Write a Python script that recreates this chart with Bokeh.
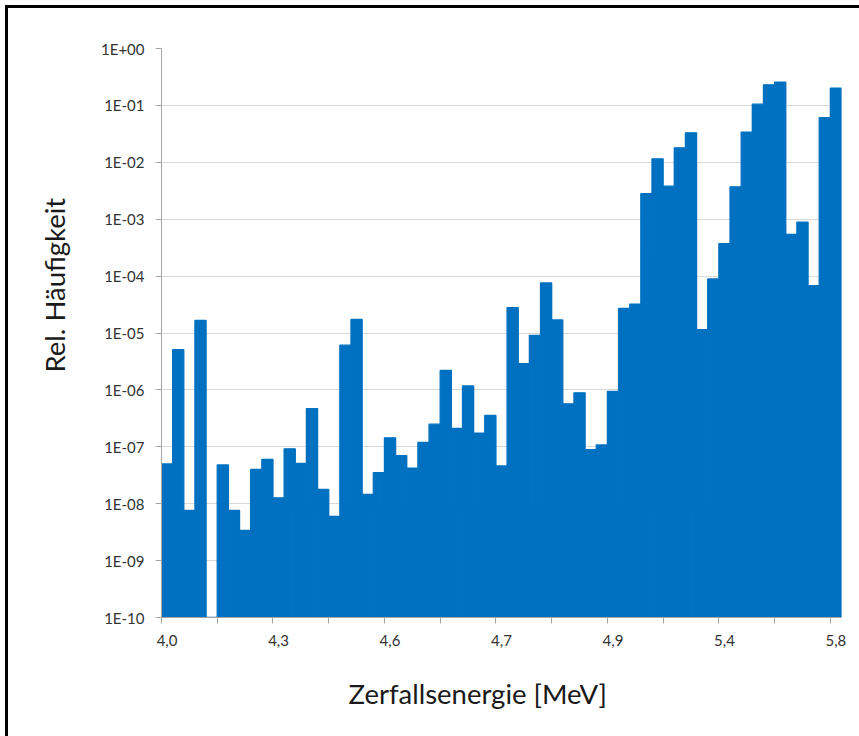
import math
from bokeh.plotting import figure
from bokeh.layouts import column
from bokeh.models import (FixedTicker, CustomJSTickFormatter, Range1d, Title,
                          ColumnDataSource)
from bokeh.embed import file_html
from bokeh.resources import INLINE

# ---- data -------------------------------------------------------------
tick_labels = ["4,0", "4,3", "4,6", "4,7", "4,9", "5,4", "5,8"]
label_every = 10
minor_every = 5
rel_haeufigkeit = [
    5.0e-8, 5.1e-6, 7.6e-9, 1.66e-5, 1e-10, 4.8e-8, 7.6e-9, 3.4e-9, 4.0e-8, 6.0e-8,
    1.27e-8, 9.2e-8, 5.1e-8, 4.7e-7, 1.78e-8, 6.0e-9, 6.1e-6, 1.73e-5, 1.45e-8, 3.5e-8,
    1.44e-7, 7.0e-8, 4.2e-8, 1.2e-7, 2.5e-7, 2.2e-6, 2.1e-7, 1.17e-6, 1.74e-7, 3.55e-7,
    4.6e-8, 2.8e-5, 2.9e-6, 9.1e-6, 7.6e-5, 1.7e-5, 5.7e-7, 8.9e-7, 8.9e-8, 1.08e-7,
    9.4e-7, 2.7e-5, 3.2e-5, 2.8e-3, 1.15e-2, 3.8e-3, 1.8e-2, 3.3e-2, 1.15e-5, 8.9e-5,
    3.7e-4, 3.7e-3, 3.4e-2, 0.105, 0.23, 0.255, 5.4e-4, 8.9e-4, 6.8e-5, 6.1e-2, 0.2,
]
y_min, y_max = 1e-10, 1.0
x_title = "Zerfallsenergie [MeV]"
y_title = "Rel. Häufigkeit"

# ---- figure ------------------------------------------------------------
n = len(rel_haeufigkeit)
OFF = 8                      # frame line + gap in front of the figure
W, H = 859 - OFF, 736 - OFF
FONT = "Lato"
BLUE = "#0070C0"
TXT = "#333333"

p = figure(width=W, height=H, output_backend="svg", toolbar_location=None,
           y_axis_type="log", x_range=Range1d(0, n), y_range=Range1d(y_min, y_max),
           min_border_left=161 - OFF, min_border_right=18, min_border_top=48 - OFF,
           min_border_bottom=119)
p.outline_line_color = None
p.background_fill_color = "white"
p.border_fill_color = "white"

src = ColumnDataSource(dict(
    left=list(range(n)),
    right=[i + 1 for i in range(n)],
    top=rel_haeufigkeit,
    bottom=[y_min] * n,
))
p.quad(left="left", right="right", top="top", bottom="bottom", source=src,
       fill_color=BLUE, line_color=BLUE, line_width=1.3)

# grid
p.xgrid.visible = False
p.ygrid.grid_line_color = "#D9D9D9"
p.ygrid.grid_line_width = 1
p.ygrid.minor_grid_line_color = None

# y axis
decades = list(range(int(round(math.log10(y_min))), int(round(math.log10(y_max))) + 1))
p.yaxis.ticker = FixedTicker(ticks=[10.0 ** d for d in decades], minor_ticks=[])
p.yaxis.formatter = CustomJSTickFormatter(code="""
    const e = Math.round(Math.log10(tick));
    const s = e >= 0 ? "+" : "-";
    const a = Math.abs(e);
    return "1E" + s + (a < 10 ? "0" + a : "" + a);
""")
p.yaxis.axis_line_color = "#A6A6A6"
p.yaxis.major_tick_line_color = "#A6A6A6"
p.yaxis.major_tick_out = 6
p.yaxis.major_tick_in = 0
p.yaxis.minor_tick_line_color = None
p.yaxis.major_label_text_font = FONT
p.yaxis.major_label_text_font_size = "15px"
p.yaxis.major_label_text_color = TXT
p.yaxis.major_label_standoff = 11

# x axis
major_pos = [i + 0.5 for i in range(0, n, label_every)]
minor_pos = [float(i) for i in range(0, n, minor_every)]
p.xaxis.ticker = FixedTicker(ticks=major_pos, minor_ticks=minor_pos)
p.xaxis.major_label_overrides = {pos: lab for pos, lab in zip(major_pos, tick_labels)}
p.xaxis.axis_line_color = "#A6A6A6"
p.xaxis.major_tick_out = 0
p.xaxis.major_tick_in = 0
p.xaxis.minor_tick_line_color = "#A6A6A6"
p.xaxis.minor_tick_out = 6
p.xaxis.minor_tick_in = 0
p.xaxis.major_label_text_font = FONT
p.xaxis.major_label_text_font_size = "15px"
p.xaxis.major_label_text_color = TXT
p.xaxis.major_label_standoff = 11

# axis titles (placed like the original, slightly off-centre)
p.add_layout(Title(text=x_title, align="left", offset=187, standoff=53,
                   text_font=FONT, text_font_size="27.5px", text_font_style="normal",
                   text_color="#1a1a1a"), "below")
p.add_layout(Title(text=y_title, align="left", offset=245, standoff=55,
                   text_font=FONT, text_font_size="27.5px", text_font_style="normal",
                   text_color="#1a1a1a"), "left")

page = column(p, styles={"border-left": "3px solid black", "border-top": "3px solid black",
                         "margin-left": "5px", "margin-top": "5px"})

open("out.html", "w").write(file_html(page, INLINE))
